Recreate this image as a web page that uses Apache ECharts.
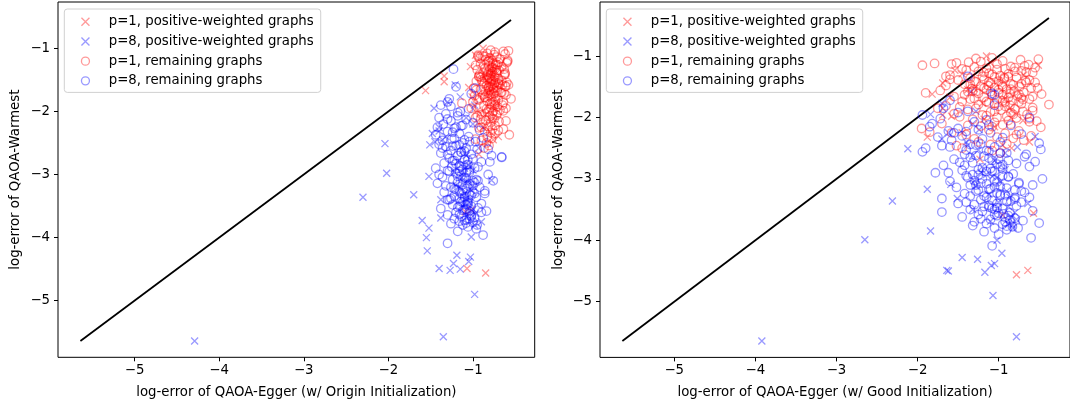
<!DOCTYPE html>
<html>
<head>
<meta charset="utf-8">
<script src="https://cdn.jsdelivr.net/npm/echarts@6/dist/echarts.min.js"></script>
<style>
html,body{margin:0;padding:0;background:#fff;}
#chart{width:1070px;height:405px;}
</style>
</head>
<body>
<div id="chart"></div>
<script>
// ---- data: shared y (log-error of QAOA-Warmest), x per initialization ----
const seriesNames = ['p=1, positive-weighted graphs', 'p=8, positive-weighted graphs', 'p=1, remaining graphs', 'p=8, remaining graphs'];
const tickValues = [-5, -4, -3, -2, -1];
const xTitles = ['log-error of QAOA-Egger (w/ Origin Initialization)', 'log-error of QAOA-Egger (w/ Good Initialization)'];
const yTitle = 'log-error of QAOA-Warmest';

// p=1, positive-weighted graphs
const p1PosY = [-4.56,-4.49,-3.59,-3.56,-2.68,-2.50,-2.32,-1.67,-1.62,-1.44,
  -1.53,-1.23,-1.15,-1.11,-1.29,-1.31,-1.77,-1.98,-1.40,-1.85,
  -2.05,-2.15,-1.70,-1.00,-2.40,-1.55,-1.95,-2.25,-2.45,-1.96,-2.03];
const p1PosXOrigin = [-0.85,-1.07,-1.09,-1.02,-0.93,-0.83,-0.80,-1.56,-1.05,-1.34,
  -1.34,-0.90,-0.80,-0.97,-1.03,-0.78,-1.01,-0.94,-0.75,-0.72,
  -0.85,-0.78,-0.82,-0.88,-0.70,-0.68,-0.74,-0.88,-0.76,-1.00,-0.92];
const p1PosXGood = [-0.78,-0.64,-0.95,-0.57,-1.23,-0.84,-1.88,-1.60,-1.82,-1.69,
  -1.30,-1.54,-0.51,-1.10,-1.45,-0.69,-1.20,-1.58,-1.00,-0.86,
  -0.70,-1.05,-0.92,-1.15,-0.62,-1.38,-0.78,-1.45,-0.95,-1.69,-1.18];

// p=8, positive-weighted graphs
const p8PosY = [-5.64,-5.57,-4.90,-4.52,-4.49,-4.50,-4.41,-4.38,-4.31,-4.28,
  -4.21,-4.00,-3.99,-3.85,-3.75,-3.73,-3.69,-3.40,-3.36,-3.32,
  -3.17,-3.09,-3.03,-2.98,-2.53,-2.51,-2.48,-2.35,-2.31,-1.95,
  -1.85,-1.77,-1.58,-2.62,-2.70,-2.80,-2.85,-2.90,-2.93,-2.96,
  -3.05,-3.12,-3.20,-3.25,-3.30,-3.38,-3.45,-3.50,-3.55,-3.62,
  -3.66,-3.80,-2.40,-2.25,-2.20,-2.10,-1.90,-2.45,-2.58];
const p8PosXOrigin = [-4.29,-1.35,-0.98,-1.27,-1.40,-1.15,-1.23,-1.05,-1.03,-1.19,
  -1.54,-1.55,-1.02,-1.52,-0.90,-1.60,-1.38,-1.38,-2.30,-1.70,
  -1.20,-0.78,-1.52,-2.02,-1.51,-2.04,-1.45,-1.48,-1.40,-1.46,
  -1.30,-1.15,-1.21,-1.12,-1.08,-1.18,-1.05,-1.10,-1.00,-1.22,
  -1.13,-1.06,-1.16,-1.02,-1.10,-1.08,-1.04,-1.12,-1.00,-0.97,
  -1.06,-0.98,-1.32,-1.40,-1.00,-1.08,-0.98,-1.36,-0.93];
const p8PosXGood = [-3.92,-0.78,-1.07,-1.17,-1.64,-1.62,-1.09,-1.05,-1.26,-1.45,
  -0.96,-1.02,-2.65,-1.84,-0.83,-0.88,-1.10,-0.64,-2.31,-1.51,
  -1.88,-1.59,-1.30,-1.02,-1.25,-2.12,-0.77,-1.70,-0.55,-1.84,
  -1.69,-1.70,-1.34,-1.32,-1.05,-1.20,-0.92,-1.22,-1.15,-1.08,
  -0.98,-1.28,-0.90,-1.12,-0.86,-1.00,-0.88,-1.32,-0.80,-0.84,
  -0.78,-0.82,-1.40,-1.62,-1.24,-1.32,-1.28,-1.38,-0.92];

// p=1, remaining graphs
const p1RemY = [-1.03,-1.05,-1.08,-1.10,-1.12,-1.14,-1.15,-1.17,-1.18,-1.20,
  -1.21,-1.22,-1.24,-1.25,-1.27,-1.28,-1.29,-1.31,-1.32,-1.33,
  -1.34,-1.35,-1.36,-1.37,-1.38,-1.39,-1.40,-1.41,-1.42,-1.43,
  -1.44,-1.45,-1.46,-1.47,-1.48,-1.49,-1.50,-1.51,-1.52,-1.53,
  -1.54,-1.55,-1.56,-1.57,-1.58,-1.59,-1.60,-1.61,-1.62,-1.63,
  -1.64,-1.65,-1.66,-1.67,-1.68,-1.69,-1.70,-1.71,-1.72,-1.74,
  -1.75,-1.76,-1.78,-1.79,-1.80,-1.81,-1.82,-1.84,-1.85,-1.86,
  -1.87,-1.88,-1.90,-1.91,-1.92,-1.94,-1.95,-1.96,-1.98,-2.00,
  -2.01,-2.03,-2.05,-2.06,-2.08,-2.10,-2.12,-2.14,-2.16,-2.18,
  -2.20,-2.22,-2.24,-2.26,-2.28,-2.30,-2.32,-2.34,-2.37,-2.40,
  -2.43,-2.46,-2.50,-2.54,-2.58,-1.06,-1.13,-1.26,-1.47,-1.57,
  -1.35,-1.52,-1.68,-1.77,-1.61,-1.43,-1.30,-1.19,-1.55,-1.73,
  -1.97,-2.11,-1.83,-1.48,-1.25,-1.38,-1.62,-1.89,-2.35,-2.02,
  -1.09,-1.16,-1.23,-1.34,-1.42,-1.50,-1.58,-1.66,-1.74,-1.82,
  -1.90,-1.11,-1.19,-1.27,-1.39,-1.46,-1.54,-1.63,-1.71,-1.79,
  -1.99,-2.07,-2.15,-2.25,-1.04,-1.45,-1.60,-1.85,-1.70,-1.52,
  -1.33,-1.41,-1.21,-1.13,-1.58,-1.75,-1.95,-2.13,-2.28,-2.44];
const p1RemXOrigin = [-0.79,-0.64,-0.83,-0.75,-0.88,-0.72,-0.80,-0.68,-0.85,-0.77,
  -0.82,-0.70,-0.76,-0.91,-0.73,-0.81,-0.66,-0.78,-0.86,-0.74,
  -0.80,-0.69,-0.84,-0.77,-0.72,-0.88,-0.79,-0.62,-0.83,-0.75,
  -0.93,-0.81,-0.74,-0.86,-0.70,-0.78,-0.83,-0.66,-0.76,-0.89,
  -0.73,-0.80,-0.87,-0.69,-0.77,-0.84,-0.61,-0.79,-0.72,-0.82,
  -0.76,-0.91,-0.80,-0.71,-0.85,-0.78,-0.67,-0.82,-0.75,-0.88,
  -0.81,-0.73,-0.86,-0.78,-0.55,-0.95,-0.70,-0.83,-0.76,-0.64,
  -1.13,-0.80,-0.74,-0.87,-0.71,-0.79,-1.02,-0.84,-0.68,-0.76,
  -0.83,-0.77,-0.90,-0.72,-0.80,-0.97,-0.75,-0.85,-0.69,-0.79,
  -0.88,-0.74,-0.82,-0.93,-0.77,-0.70,-0.86,-0.79,-0.57,-0.83,
  -0.78,-0.90,-0.84,-0.81,-0.87,-0.74,-0.86,-0.71,-0.82,-0.75,
  -0.72,-0.78,-0.74,-0.86,-0.81,-0.79,-0.77,-0.81,-0.70,-0.79,
  -0.81,-0.77,-0.74,-0.80,-0.73,-0.82,-0.76,-0.78,-0.74,-0.71,
  -0.62,-0.92,-0.60,-0.95,-0.63,-0.90,-0.58,-0.96,-0.61,-0.93,
  -0.65,-0.94,-0.59,-0.97,-0.62,-0.91,-0.60,-0.99,-0.63,-0.92,
  -0.64,-0.95,-0.61,-0.90,-0.58,-0.93,-0.62,-1.00,-0.66,-0.96,
  -0.63,-0.92,-0.59,-0.94,-0.65,-0.98,-0.61,-0.91,-0.64,-0.97];
const p1RemXGood = [-1.08,-0.51,-0.95,-1.37,-1.79,-0.63,-1.94,-0.85,-1.30,-1.15,
  -1.45,-1.02,-0.72,-1.25,-0.58,-1.12,-0.88,-1.60,-0.98,-1.20,
  -1.05,-0.78,-1.35,-0.93,-1.18,-1.50,-0.67,-1.00,-1.28,-0.55,
  -1.10,-0.85,-1.42,-0.96,-1.65,-1.22,-0.74,-1.05,-0.60,-1.33,
  -0.90,-1.15,-1.72,-0.81,-1.38,-0.69,-1.00,-1.25,-0.47,-0.95,
  -1.08,-0.77,-1.55,-1.18,-0.88,-1.30,-0.62,-1.02,-0.83,-1.45,
  -0.92,-1.12,-0.72,-0.38,-0.86,-1.65,-1.00,-0.58,-1.28,-0.80,
  -1.38,-0.97,-0.70,-1.10,-0.85,-1.55,-0.65,-1.20,-0.90,-1.02,
  -0.78,-1.32,-0.88,-0.53,-1.05,-1.70,-0.95,-1.22,-0.48,-1.95,
  -1.12,-0.75,-1.85,-0.92,-1.40,-0.60,-1.02,-0.82,-0.69,-1.25,
  -0.90,-1.52,-1.45,-1.08,-0.98,-0.73,-1.58,-0.66,-0.82,-1.32,
  -0.93,-1.18,-0.72,-1.05,-0.86,-0.66,-1.08,-0.55,-1.00,-0.95,
  -1.15,-0.85,-1.48,-1.13,-0.80,-1.60,-0.75,-0.58,-1.30,-0.62,
  -1.22,-0.68,-1.40,-0.88,-1.12,-0.95,-1.28,-0.58,-1.15,-0.92,
  -1.05,-1.52,-0.80,-1.18,-0.62,-1.35,-0.85,-1.42,-0.70,-1.25,
  -1.48,-0.62,-1.08,-1.58,-1.28,-0.72,-1.90,-1.75,-1.35,-0.52,
  -1.65,-1.30,-0.92,-1.02,-1.10,-0.75,-0.82,-1.38,-0.78,-1.10];

// p=8, remaining graphs
const p8RemY = [-1.33,-1.61,-1.63,-1.72,-1.80,-1.85,-1.90,-1.96,-2.00,-2.04,
  -2.07,-2.10,-2.13,-2.15,-2.18,-2.20,-2.22,-2.25,-2.27,-2.30,
  -2.32,-2.35,-2.37,-2.40,-2.42,-2.44,-2.46,-2.48,-2.50,-2.52,
  -2.54,-2.56,-2.58,-2.60,-2.62,-2.64,-2.66,-2.68,-2.70,-2.72,
  -2.74,-2.76,-2.78,-2.80,-2.82,-2.84,-2.86,-2.88,-2.90,-2.92,
  -2.94,-2.96,-2.98,-3.00,-3.02,-3.04,-3.06,-3.08,-3.10,-3.12,
  -3.14,-3.16,-3.18,-3.20,-3.22,-3.24,-3.26,-3.28,-3.30,-3.32,
  -3.34,-3.36,-3.38,-3.40,-3.42,-3.44,-3.46,-3.48,-3.50,-3.52,
  -3.54,-3.56,-3.58,-3.60,-3.62,-3.64,-3.66,-3.68,-3.70,-3.72,
  -3.74,-3.76,-3.78,-3.80,-3.83,-3.86,-3.90,-3.96,-4.09,-2.73,
  -2.85,-3.05,-3.25,-3.45,-2.65,-3.15,-3.35,-2.95,-3.55,-3.65,
  -2.55,-2.75,-2.95,-3.10,-3.30,-3.50,-3.70,-2.45,-2.25,-2.60,
  -3.20,-3.40,-2.80,-3.00,-3.60,-2.70,-3.10,-3.30,-3.80,-2.90,
  -2.63,-2.77,-2.87,-2.97,-3.07,-3.17,-3.27,-3.37,-3.47,-3.57,
  -3.67,-3.77,-2.53,-2.43,-2.83,-3.03,-3.23,-3.43,-3.63,-2.93,
  -1.92,-2.02,-2.12,-2.23,-2.33,-3.13,-3.33,-3.53,-3.73,-2.68,
  -2.88,-3.08,-3.28,-3.48,-2.48,-2.58,-3.18,-3.38,-3.58,-2.78];
const p8RemXOrigin = [-1.23,-1.20,-0.97,-1.02,-1.28,-1.30,-1.38,-1.05,-1.15,-1.32,
  -1.18,-1.40,-1.08,-1.26,-1.00,-1.35,-1.12,-1.42,-1.22,-0.92,
  -1.30,-1.16,-1.44,-1.05,-0.88,-1.25,-1.36,-0.97,-1.12,-1.40,
  -1.20,-1.32,-1.08,-0.95,-1.26,-1.14,-1.38,-1.02,-1.18,-0.66,
  -1.28,-1.10,-1.22,-0.90,-1.34,-1.06,-1.16,-1.25,-0.98,-1.12,
  -1.30,-1.04,-1.20,-0.82,-1.14,-1.36,-1.08,-1.24,-0.94,-1.18,
  -1.42,-1.12,-1.00,-1.26,-1.08,-1.20,-0.86,-1.34,-1.14,-1.04,
  -1.22,-0.96,-1.16,-1.28,-1.06,-1.12,-0.90,-1.24,-1.02,-1.18,
  -1.38,-1.10,-0.84,-1.20,-1.04,-1.30,-1.14,-0.98,-1.22,-1.08,
  -1.16,-1.00,-1.26,-1.12,-1.06,-0.96,-1.18,-0.88,-1.30,-0.66,
  -1.08,-1.10,-1.12,-1.06,-1.14,-1.04,-1.10,-1.16,-1.08,-1.02,
  -1.24,-1.00,-1.28,-1.00,-0.98,-1.16,-1.04,-1.10,-1.20,-0.82,
  -0.92,-1.30,-0.80,-1.40,-0.90,-0.78,-0.76,-0.86,-0.95,-1.44,
  -1.10,-1.06,-1.14,-1.08,-1.12,-1.06,-1.16,-1.10,-1.06,-1.12,
  -1.02,-1.08,-1.16,-1.22,-1.20,-1.18,-1.22,-1.14,-1.16,-1.04,
  -1.26,-1.18,-1.30,-1.14,-1.24,-0.98,-1.02,-0.94,-1.10,-1.30,
  -0.94,-0.96,-1.00,-1.08,-1.04,-1.36,-1.32,-1.26,-1.04,-1.24];
const p8RemXGood = [-1.38,-1.08,-1.05,-1.60,-1.05,-1.68,-1.38,-1.94,-0.62,-1.15,
  -1.30,-1.82,-0.85,-1.85,-1.50,-1.25,-1.62,-1.10,-0.72,-1.45,
  -1.75,-1.20,-1.58,-0.98,-0.50,-1.35,-1.70,-1.05,-1.90,-0.48,
  -1.15,-1.94,-0.90,-1.42,-1.28,-0.68,-1.12,-1.55,-0.88,-0.55,
  -1.32,-1.02,-1.68,-0.62,-1.20,-0.95,-1.45,-1.08,-1.78,-0.82,
  -1.25,-0.88,-1.38,-0.46,-1.05,-1.60,-0.75,-1.15,-1.35,-0.98,
  -1.52,-1.10,-0.80,-1.28,-0.68,-1.42,-0.92,-1.18,-0.62,-1.70,
  -1.22,-0.85,-1.40,-1.02,-1.30,-0.78,-1.12,-0.95,-1.35,-0.58,
  -1.70,-1.00,-1.25,-0.88,-1.45,-0.80,-1.10,-0.70,-1.30,-0.50,
  -0.95,-1.32,-0.83,-1.05,-0.90,-1.18,-1.00,-0.60,-1.08,-1.48,
  -1.25,-1.02,-0.98,-1.18,-1.35,-0.90,-1.08,-0.95,-0.86,-1.22,
  -1.12,-0.78,-1.40,-0.58,-1.15,-1.05,-0.92,-1.28,-1.55,-0.66,
  -0.72,-1.50,-0.98,-1.20,-1.02,-1.08,-1.28,-0.80,-0.76,-1.62,
  -1.18,-0.95,-1.05,-0.88,-1.22,-1.12,-0.98,-0.90,-1.02,-0.94,
  -0.86,-0.90,-1.40,-1.22,-1.10,-1.30,-1.02,-1.12,-0.92,-1.32,
  -1.50,-1.72,-1.12,-1.40,-0.95,-1.05,-0.80,-1.20,-1.15,-1.00,
  -1.15,-0.75,-1.35,-1.08,-1.60,-0.98,-1.25,-0.72,-1.05,-1.42];

// ---- chart ----
const FONT = 'DejaVu Sans';
const FS = 13.3;
const RED = 'rgba(255,0,0,0.5)';
const BLUE = 'rgba(0,0,255,0.5)';
const X_PATH = 'path://M0,0L10,10M10,0L0,10';

const panels = [
  { grid: { left: 58, top: 2, width: 476.7, height: 355.3 }, xRange: [-5.905, -0.27], yRange: [-5.897, -0.266], key: 'XOrigin', yNameGap: 36 },
  { grid: { left: 600, top: 2, width: 478.7, height: 355.4 }, xRange: [-5.916, -0.12], yRange: [-5.907, -0.12], key: 'XGood', yNameGap: 35 }
];
const groups = [
  { name: seriesNames[0], y: p1PosY, XOrigin: p1PosXOrigin, XGood: p1PosXGood, symbol: X_PATH, color: RED, size: 7 },
  { name: seriesNames[1], y: p8PosY, XOrigin: p8PosXOrigin, XGood: p8PosXGood, symbol: X_PATH, color: BLUE, size: 7 },
  { name: seriesNames[2], y: p1RemY, XOrigin: p1RemXOrigin, XGood: p1RemXGood, symbol: 'circle', color: RED, size: 8.5 },
  { name: seriesNames[3], y: p8RemY, XOrigin: p8RemXOrigin, XGood: p8RemXGood, symbol: 'circle', color: BLUE, size: 8.5 }
];

const fmt = v => (v < 0 ? '\u2212' : '') + Math.abs(v);

const option = {
  animation: false,
  backgroundColor: '#fff',
  textStyle: { fontFamily: FONT, fontSize: FS },
  grid: panels.map(p => Object.assign({ show: true, borderColor: '#000', borderWidth: 1, backgroundColor: 'transparent' }, p.grid)),
  xAxis: panels.map((p, i) => ({
    type: 'value', gridIndex: i, min: p.xRange[0], max: p.xRange[1],
    name: xTitles[i], nameLocation: 'middle', nameGap: 29,
    nameTextStyle: { fontFamily: FONT, fontSize: FS, color: '#000' },
    axisLine: { show: false },
    axisTick: { show: true, inside: false, length: 4, lineStyle: { color: '#000' }, customValues: tickValues },
    axisLabel: { fontFamily: FONT, fontSize: FS, color: '#000', margin: 7, formatter: fmt, customValues: tickValues },
    splitLine: { show: false }
  })),
  yAxis: panels.map((p, i) => ({
    type: 'value', gridIndex: i, min: p.yRange[0], max: p.yRange[1],
    name: yTitle, nameLocation: 'middle', nameGap: p.yNameGap,
    nameTextStyle: { fontFamily: FONT, fontSize: FS, color: '#000' },
    axisLine: { show: false },
    axisTick: { show: true, inside: false, length: 4, lineStyle: { color: '#000' }, customValues: tickValues },
    axisLabel: { fontFamily: FONT, fontSize: FS, color: '#000', margin: 8, formatter: fmt, customValues: tickValues },
    splitLine: { show: false }
  })),
  legend: panels.map(p => ({
    orient: 'vertical',
    left: p.grid.left + 6.3, top: 9,
    padding: [5, 7, 3.8, 16.5],
    itemWidth: 36.6, itemHeight: 8, itemGap: 4.2,
    symbolKeepAspect: true,
    backgroundColor: 'rgba(255,255,255,0.8)',
    borderColor: '#d0d0d0', borderWidth: 1, borderRadius: 3,
    textStyle: { fontFamily: FONT, fontSize: FS, color: '#000', lineHeight: 15.5 },
    data: groups.map(g => ({ name: g.name, icon: g.symbol, itemStyle: { color: 'rgba(0,0,0,0)', borderColor: g.color, borderWidth: 1.3 } })),
    selectedMode: false
  })),
  series: []
};

panels.forEach((p, i) => {
  // diagonal reference line from overall data min to max
  let lo = Infinity, hi = -Infinity;
  groups.forEach(g => {
    g.y.concat(g[p.key]).forEach(v => { lo = Math.min(lo, v); hi = Math.max(hi, v); });
  });
  option.series.push({
    type: 'line', xAxisIndex: i, yAxisIndex: i, data: [[lo, lo], [hi, hi]],
    symbol: 'none', lineStyle: { color: '#000', width: 1.8 }, silent: true, z: 1
  });
  groups.forEach(g => {
    option.series.push({
      name: g.name, type: 'scatter', xAxisIndex: i, yAxisIndex: i,
      symbol: g.symbol, symbolSize: g.size,
      itemStyle: { color: 'rgba(0,0,0,0)', borderColor: g.color, borderWidth: 1.3 },
      data: g.y.map((y, k) => [g[p.key][k], y]),
      z: 2
    });
  });
});

const chart = echarts.init(document.getElementById('chart'), null, { renderer: 'canvas' });
chart.setOption(option);
</script>
</body>
</html>
